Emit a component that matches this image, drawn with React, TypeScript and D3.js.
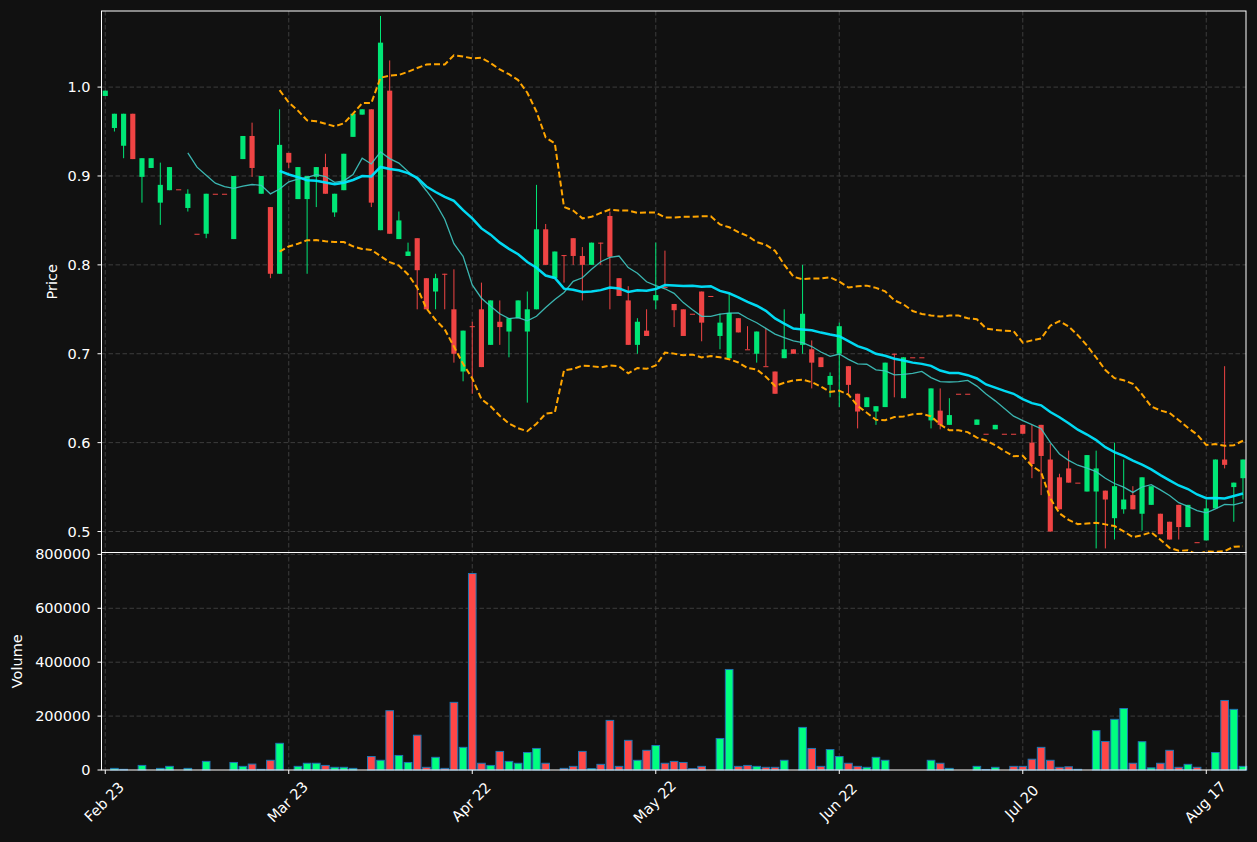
import React from 'react';
import * as d3 from 'd3';

// daily OHLC (index 0 = Feb 23)
const opens = [
  0.990, 0.954, 0.934, 0.970, 0.899, 0.909, 0.870, 0.884, 0.885, 0.864,
  0.835, 0.835, 0.880, 0.880, 0.829, 0.919, 0.945, 0.880, 0.865, 0.790,
  0.926, 0.874, 0.874, 0.899, 0.910, 0.859, 0.884, 0.944, 0.969, 0.975,
  0.839, 0.996, 0.829, 0.810, 0.830, 0.785, 0.770, 0.790, 0.750, 0.680,
  0.731, 0.750, 0.710, 0.736, 0.725, 0.740, 0.725, 0.750, 0.840, 0.785,
  0.811, 0.830, 0.810, 0.800, 0.825, 0.855, 0.785, 0.760, 0.710, 0.726,
  0.760, 0.775, 0.756, 0.750, 0.745, 0.770, 0.765, 0.720, 0.695, 0.740,
  0.705, 0.700, 0.686, 0.680, 0.695, 0.705, 0.710, 0.705, 0.696, 0.665,
  0.700, 0.686, 0.655, 0.640, 0.635, 0.640, 0.700, 0.650, 0.696, 0.696,
  0.625, 0.636, 0.620, 0.655, 0.655, 0.620, 0.610, 0.615, 0.610, 0.610,
  0.620, 0.600, 0.620, 0.581, 0.561, 0.571, 0.555, 0.545, 0.545, 0.546,
  0.515, 0.525, 0.541, 0.520, 0.530, 0.520, 0.511, 0.530, 0.505, 0.488,
  0.490, 0.526, 0.581, 0.550, 0.560,
];
const highs = [
  0.996, 0.970, 0.970, 0.970, 0.920, 0.920, 0.915, 0.910, 0.885, 0.885,
  0.835, 0.880, 0.880, 0.880, 0.900, 0.945, 0.960, 0.900, 0.865, 0.975,
  0.926, 0.910, 0.900, 0.910, 0.925, 0.880, 0.925, 0.970, 0.975, 0.975,
  1.080, 1.030, 0.860, 0.825, 0.830, 0.785, 0.790, 0.790, 0.795, 0.726,
  0.736, 0.780, 0.760, 0.760, 0.740, 0.760, 0.770, 0.890, 0.846, 0.815,
  0.811, 0.830, 0.820, 0.825, 0.825, 0.860, 0.785, 0.776, 0.740, 0.750,
  0.825, 0.816, 0.756, 0.750, 0.745, 0.770, 0.765, 0.745, 0.768, 0.740,
  0.731, 0.725, 0.729, 0.680, 0.750, 0.705, 0.800, 0.715, 0.696, 0.679,
  0.735, 0.686, 0.655, 0.651, 0.641, 0.690, 0.700, 0.696, 0.696, 0.696,
  0.661, 0.661, 0.650, 0.655, 0.655, 0.626, 0.610, 0.620, 0.610, 0.610,
  0.620, 0.620, 0.620, 0.599, 0.565, 0.591, 0.555, 0.586, 0.591, 0.546,
  0.600, 0.581, 0.551, 0.561, 0.551, 0.520, 0.511, 0.530, 0.530, 0.488,
  0.536, 0.581, 0.686, 0.555, 0.581,
];
const lows = [
  0.990, 0.950, 0.920, 0.919, 0.870, 0.909, 0.845, 0.884, 0.885, 0.860,
  0.835, 0.830, 0.880, 0.880, 0.829, 0.919, 0.899, 0.880, 0.785, 0.790,
  0.909, 0.874, 0.790, 0.865, 0.880, 0.854, 0.884, 0.944, 0.969, 0.865,
  0.839, 0.835, 0.829, 0.810, 0.750, 0.750, 0.750, 0.750, 0.690, 0.669,
  0.655, 0.685, 0.710, 0.710, 0.696, 0.740, 0.645, 0.750, 0.800, 0.785,
  0.780, 0.800, 0.760, 0.800, 0.800, 0.750, 0.765, 0.710, 0.700, 0.720,
  0.750, 0.775, 0.730, 0.720, 0.745, 0.714, 0.765, 0.705, 0.695, 0.724,
  0.705, 0.690, 0.686, 0.655, 0.695, 0.700, 0.700, 0.661, 0.685, 0.651,
  0.640, 0.655, 0.616, 0.640, 0.620, 0.640, 0.651, 0.650, 0.696, 0.696,
  0.616, 0.615, 0.620, 0.655, 0.655, 0.620, 0.610, 0.615, 0.610, 0.610,
  0.610, 0.560, 0.541, 0.500, 0.525, 0.555, 0.555, 0.545, 0.481, 0.481,
  0.491, 0.520, 0.525, 0.501, 0.530, 0.497, 0.491, 0.491, 0.505, 0.488,
  0.490, 0.526, 0.571, 0.511, 0.536,
];
const closes = [
  0.996, 0.970, 0.970, 0.919, 0.920, 0.920, 0.890, 0.910, 0.885, 0.880,
  0.835, 0.880, 0.880, 0.880, 0.900, 0.945, 0.909, 0.900, 0.790, 0.935,
  0.915, 0.910, 0.900, 0.910, 0.880, 0.880, 0.925, 0.970, 0.975, 0.870,
  1.050, 0.835, 0.850, 0.815, 0.794, 0.750, 0.785, 0.790, 0.700, 0.726,
  0.730, 0.685, 0.760, 0.730, 0.740, 0.760, 0.750, 0.840, 0.800, 0.815,
  0.810, 0.810, 0.800, 0.825, 0.825, 0.809, 0.765, 0.710, 0.736, 0.720,
  0.766, 0.775, 0.749, 0.720, 0.745, 0.735, 0.765, 0.735, 0.746, 0.724,
  0.705, 0.725, 0.686, 0.655, 0.705, 0.700, 0.745, 0.690, 0.685, 0.675,
  0.731, 0.665, 0.635, 0.651, 0.641, 0.690, 0.700, 0.696, 0.696, 0.696,
  0.661, 0.620, 0.631, 0.655, 0.655, 0.626, 0.610, 0.620, 0.610, 0.610,
  0.610, 0.576, 0.585, 0.500, 0.525, 0.555, 0.555, 0.586, 0.571, 0.536,
  0.551, 0.536, 0.525, 0.561, 0.551, 0.497, 0.491, 0.505, 0.530, 0.488,
  0.526, 0.581, 0.575, 0.555, 0.581,
];
const volumes = [
  0, 6000, 2500, 0, 17000, 0, 6000, 13500, 0, 6000,
  0, 32000, 0, 0, 28000, 13500, 22000, 2500, 36000, 99000,
  0, 13500, 25000, 25000, 17000, 10000, 10000, 6000, 0, 50000,
  36000, 220000, 54000, 28000, 129000, 10000, 47000, 6000, 251000, 84000,
  729000, 25000, 17000, 69000, 32000, 25000, 65000, 80000, 25000, 0,
  6000, 13500, 69000, 5000, 21000, 184000, 13500, 110000, 36000, 73000,
  91000, 25000, 32000, 28000, 5000, 13500, 0, 117000, 373000, 13500,
  17000, 13500, 10000, 10000, 36000, 0, 158000, 80000, 13500, 76000,
  50000, 25000, 13500, 10000, 47000, 36000, 0, 0, 0, 0,
  36000, 25000, 6000, 0, 0, 13500, 2000, 10000, 0, 13500,
  13500, 40000, 84000, 36000, 10000, 12000, 2500, 0, 146000, 106000,
  188000, 228000, 25000, 105000, 8000, 25000, 73000, 10000, 21000, 10000,
  0, 65000, 258000, 225000, 13500,
];

// x ticks every 20 sessions
const tickIndex = [0, 20, 40, 60, 80, 100, 120];
const tickLabels = ['Feb 23', 'Mar 23', 'Apr 22', 'May 22', 'Jun 22', 'Jul 20', 'Aug 17'];
const priceTicks = [0.5, 0.6, 0.7, 0.8, 0.9, 1.0];
const volumeTicks = [0, 200000, 400000, 600000, 800000];

const W = 1257;
const H = 842;
const left = 101.5;
const right = 1246;
const priceTop = 11;
const split = 552.5;
const volBottom = 770;

const BG = '#111111';
const GRID = '#3d3d3d';
const UP = '#00e676';
const DOWN = '#ef4444';
const VOL_UP = '#00ff80';
const VOL_DOWN = '#ff4747';
const FONT = 'DejaVu Sans, sans-serif';

// rolling mean / population std over n closes
const rolling = (vals: number[], n: number) =>
  vals.map((_, i) => (i < n - 1 ? null : d3.mean(vals.slice(i - n + 1, i + 1)) as number));
const rollingStd = (vals: number[], n: number) =>
  vals.map((_, i) => {
    if (i < n - 1) return null;
    const w = vals.slice(i - n + 1, i + 1);
    const m = d3.mean(w) as number;
    return Math.sqrt(d3.mean(w, v => (v - m) * (v - m)) as number);
  });

const App: React.FC = () => {
  const n = closes.length;
  const x = d3.scaleLinear().domain([-0.41, n - 1 + 0.33]).range([left, right]);
  const yP = d3.scaleLinear().domain([0.4764, 1.0856]).range([split, priceTop]);
  const yV = d3.scaleLinear().domain([0, 807000]).range([volBottom, split]);

  const slot = x(1) - x(0);
  const bodyW = slot * 0.56;
  const barW = slot * 0.83;

  const ma10 = rolling(closes, 10);
  const ma20 = rolling(closes, 20);
  const sd20 = rollingStd(closes, 20);
  const upper = ma20.map((m, i) => (m == null ? null : m + 2 * (sd20[i] as number)));
  const lower = ma20.map((m, i) => (m == null ? null : m - 2 * (sd20[i] as number)));

  const line = d3.line<number | null>()
    .defined(d => d != null)
    .x((_, i) => x(i))
    .y(d => yP(d as number));

  return (
    <svg width={W} height={H} style={{ position: 'absolute', left: 0, top: 0, fontFamily: FONT }}>
      <defs>
        <clipPath id="priceClip">
          <rect x={left} y={priceTop} width={right - left} height={split - priceTop} />
        </clipPath>
      </defs>
      <rect x={0} y={0} width={W} height={H} fill={BG} />

      {/* grid */}
      <g stroke={GRID} strokeWidth={1} strokeDasharray="4.5,2.5">
        {tickIndex.map(t => (
          <line key={'vx' + t} x1={x(t)} x2={x(t)} y1={priceTop} y2={volBottom} />
        ))}
        {priceTicks.map(p => (
          <line key={'hp' + p} x1={left} x2={right} y1={yP(p)} y2={yP(p)} />
        ))}
        {volumeTicks.slice(1).map(v => (
          <line key={'hv' + v} x1={left} x2={right} y1={yV(v)} y2={yV(v)} />
        ))}
      </g>

      {/* candles */}
      <g clipPath="url(#priceClip)">
        {closes.map((c, i) => {
          const o = opens[i];
          const col = c > o ? UP : DOWN;
          const yTop = yP(Math.max(o, c));
          const h = Math.max(Math.abs(yP(o) - yP(c)), 1);
          return (
            <g key={'c' + i}>
              <line x1={x(i)} x2={x(i)} y1={yP(highs[i])} y2={yP(lows[i])} stroke={col} strokeWidth={1} />
              <rect x={x(i) - bodyW / 2} y={yTop} width={bodyW} height={h} fill={col} />
            </g>
          );
        })}
        <path d={line(upper) || ''} fill="none" stroke="#ffa500" strokeWidth={2} strokeDasharray="6,3" />
        <path d={line(lower) || ''} fill="none" stroke="#ffa500" strokeWidth={2} strokeDasharray="6,3" />
        <path d={line(ma10) || ''} fill="none" stroke="#3fc8c2" strokeWidth={1.3} opacity={0.9} />
        <path d={line(ma20) || ''} fill="none" stroke="#00e5ff" strokeWidth={2.5} opacity={0.95} />
      </g>

      {/* volume */}
      <g>
        {volumes.map((v, i) =>
          v > 0 ? (
            <rect
              key={'v' + i}
              x={x(i) - barW / 2}
              y={yV(v)}
              width={barW}
              height={volBottom - yV(v)}
              fill={closes[i] > opens[i] ? VOL_UP : VOL_DOWN}
              stroke="#1f77b4"
              strokeWidth={1}
            />
          ) : null
        )}
      </g>

      {/* frames */}
      <rect x={left} y={priceTop} width={right - left} height={split - priceTop} fill="none" stroke="#ffffff" strokeWidth={1} />
      <rect x={left} y={split} width={right - left} height={volBottom - split} fill="none" stroke="#ffffff" strokeWidth={1} />

      {/* axes */}
      <g fill="#ffffff" fontSize={14.5}>
        {priceTicks.map(p => (
          <g key={'pt' + p}>
            <line x1={left - 4} x2={left} y1={yP(p)} y2={yP(p)} stroke="#ffffff" />
            <text x={left - 11} y={yP(p)} textAnchor="end" dominantBaseline="central">{p.toFixed(1)}</text>
          </g>
        ))}
        {volumeTicks.map(v => (
          <g key={'vt' + v}>
            <line x1={left - 4} x2={left} y1={yV(v)} y2={yV(v)} stroke="#ffffff" />
            <text x={left - 11} y={yV(v)} textAnchor="end" dominantBaseline="central">{v}</text>
          </g>
        ))}
        {tickIndex.map((t, k) => (
          <g key={'xt' + t}>
            <line x1={x(t)} x2={x(t)} y1={volBottom} y2={volBottom + 4} stroke="#ffffff" />
            <text
              transform={`translate(${x(t) - 1},${volBottom + 32}) rotate(-45)`}
              textAnchor="middle"
              dominantBaseline="central"
            >
              {tickLabels[k]}
            </text>
          </g>
        ))}
        <text transform={`translate(52,${(priceTop + split) / 2}) rotate(-90)`} textAnchor="middle" dominantBaseline="central">
          Price
        </text>
        <text transform={`translate(17,${(split + volBottom) / 2}) rotate(-90)`} textAnchor="middle" dominantBaseline="central">
          Volume
        </text>
      </g>
    </svg>
  );
};

export default App;
